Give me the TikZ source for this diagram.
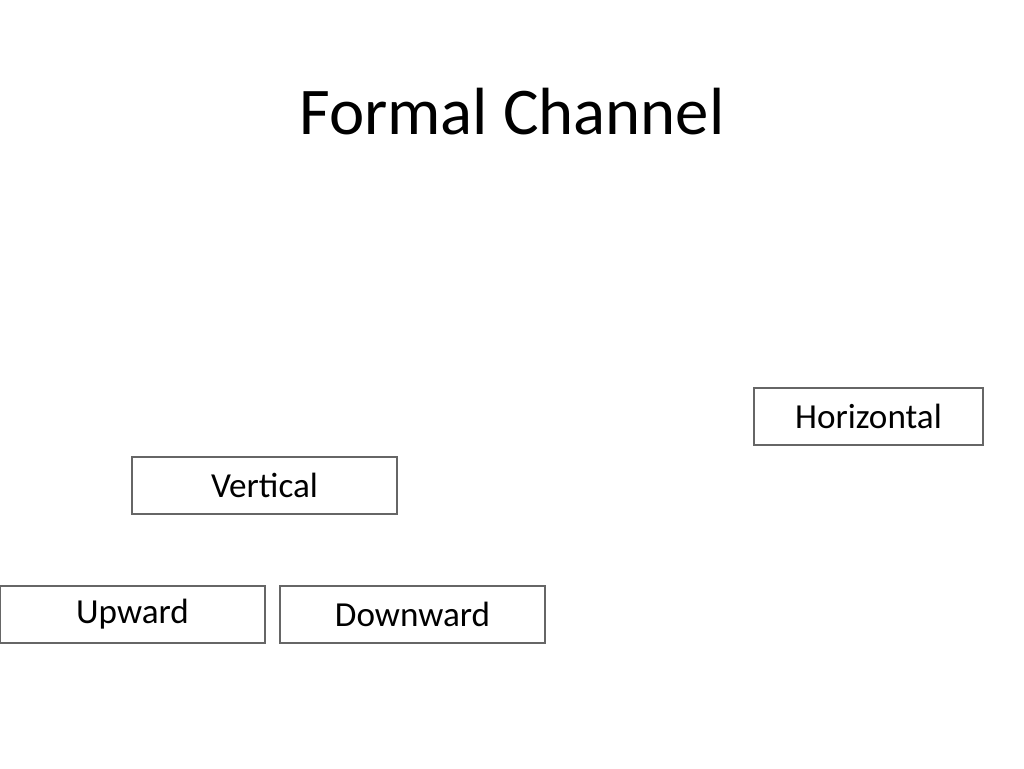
\documentclass[tikz,border=0pt]{standalone}
\usepackage{fontspec}
\setmainfont{Carlito}
\begin{document}
\begin{tikzpicture}[x=0.02cm,y=-0.02cm,
    every node/.style = {shape=rectangle, align=center},
    channel/.style={draw=black!60, line width=0.6pt, minimum width=265*0.02cm,
      minimum height=57*0.02cm, inner sep=0pt, font=\fontsize{20}{24}\selectfont},
    ]
    \useasboundingbox (0,0) rectangle (1024,768);

    \node (title) at (512,112) {\fontsize{38}{44}\selectfont Formal Channel};

    \node [channel, minimum width=229*0.02cm] (horizontal) at (868.5,416.5) {Horizontal};
    \node [channel] (vertical) at (264.5,485.5) {Vertical};
    \node [channel] (upward) at (132.5,614.5) {Upward};
    \node [channel] (downward) at (412.5,614.5) {Downward};

\end{tikzpicture}
\end{document}
